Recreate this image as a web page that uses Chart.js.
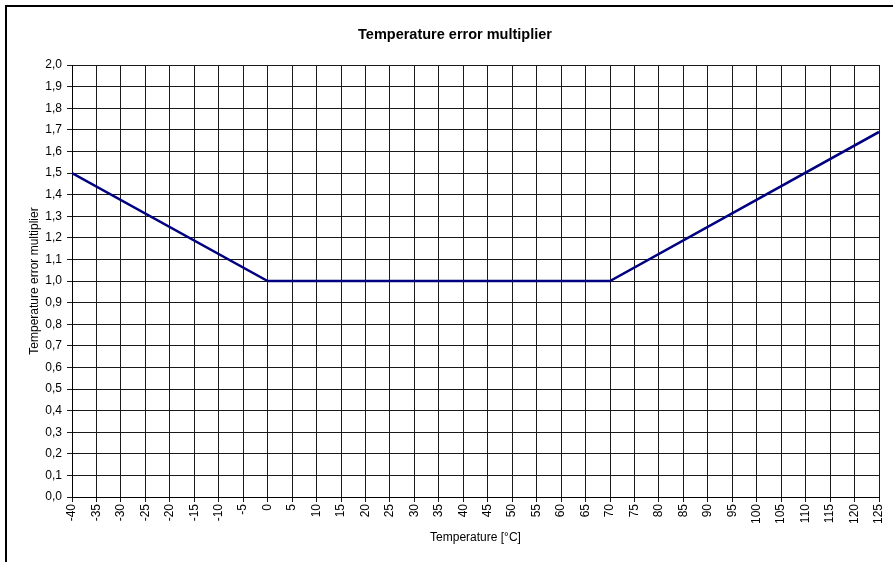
<!DOCTYPE html>
<html lang="en">
<head>
    <meta charset="UTF-8">
    <script src="https://cdn.jsdelivr.net/npm/chart.js@4.4.0/dist/chart.umd.min.js"></script>
    <title>Temperature error multiplier</title>
    <style>
        html, body { margin: 0; padding: 0; background: #fff; }
        #wrap { width: 893px; height: 562px; }
    </style>
</head>
<body>
    <div id="wrap"><canvas id="myChart" width="893" height="562"></canvas></div>
    <script>
    // values
    var temperatures = [-40, 0, 70, 125];
    var multipliers = [1.5, 1.0, 1.0, 1.69];

    var xMin = -40, xMax = 125, xStep = 5;
    var yMin = 0, yMax = 2, yStep = 0.1;

    var fontName = '"Liberation Sans", Arial, sans-serif';
    var gridColor = '#1a1a1a';

    // the black frame round the chart (left and top edges are visible)
    var framePlugin = {
        id: 'frame',
        beforeDraw: function(chart) {
            var c = chart.ctx;
            c.save();
            c.fillStyle = '#fff';
            c.fillRect(0, 0, chart.width, chart.height);
            c.strokeStyle = '#000';
            c.lineWidth = 2;
            c.beginPath();
            c.moveTo(6, chart.height);
            c.lineTo(6, 6);
            c.lineTo(chart.width, 6);
            c.stroke();
            c.restore();
        }
    };

    var points = temperatures.map(function(t, i) {
        return { x: t, y: multipliers[i] };
    });

    var ctx = document.getElementById('myChart');
    new Chart(ctx, {
        type: 'scatter',
        data: {
            datasets: [{
                label: 'Temperature error multiplier',
                data: points,
                showLine: true,
                borderColor: '#000080',
                borderWidth: 2.5,
                pointRadius: 0,
                fill: false
            }]
        },
        options: {
            responsive: false,
            animation: false,
            layout: { padding: { left: 21, right: 4, top: 0, bottom: 0 } },
            plugins: {
                legend: { display: false },
                tooltip: { enabled: false },
                title: {
                    display: true,
                    text: 'Temperature error multiplier',
                    color: '#000',
                    font: { family: fontName, size: 14.5, weight: 'bold' },
                    padding: { top: 26.3, bottom: 21.3 }
                }
            },
            scales: {
                x: {
                    type: 'linear',
                    min: xMin,
                    max: xMax,
                    afterFit: function(scale) {
                        scale.height = 65;
                        scale.paddingRight = 14;
                    },
                    ticks: {
                        stepSize: xStep,
                        autoSkip: false,
                        minRotation: 90,
                        maxRotation: 90,
                        padding: 2,
                        color: '#000',
                        font: { family: fontName, size: 12 }
                    },
                    grid: { color: gridColor, lineWidth: 1, tickLength: 5 },
                    border: { color: '#000', width: 1 },
                    title: {
                        display: true,
                        text: 'Temperature [°C]',
                        color: '#000',
                        font: { family: fontName, size: 12 },
                        padding: { top: 0, bottom: 17 }
                    }
                },
                y: {
                    min: yMin,
                    max: yMax,
                    afterFit: function(scale) { scale.width = 51; },
                    ticks: {
                        stepSize: yStep,
                        padding: 5,
                        color: '#000',
                        font: { family: fontName, size: 12 },
                        callback: function(v) { return v.toFixed(1).replace('.', ','); }
                    },
                    grid: { color: gridColor, lineWidth: 1, tickLength: 5 },
                    border: { color: '#000', width: 1 },
                    title: {
                        display: true,
                        text: 'Temperature error multiplier',
                        color: '#000',
                        font: { family: fontName, size: 12 },
                        padding: { top: 6, bottom: 0 }
                    }
                }
            }
        },
        plugins: [framePlugin]
    });
    </script>
</body>
</html>
